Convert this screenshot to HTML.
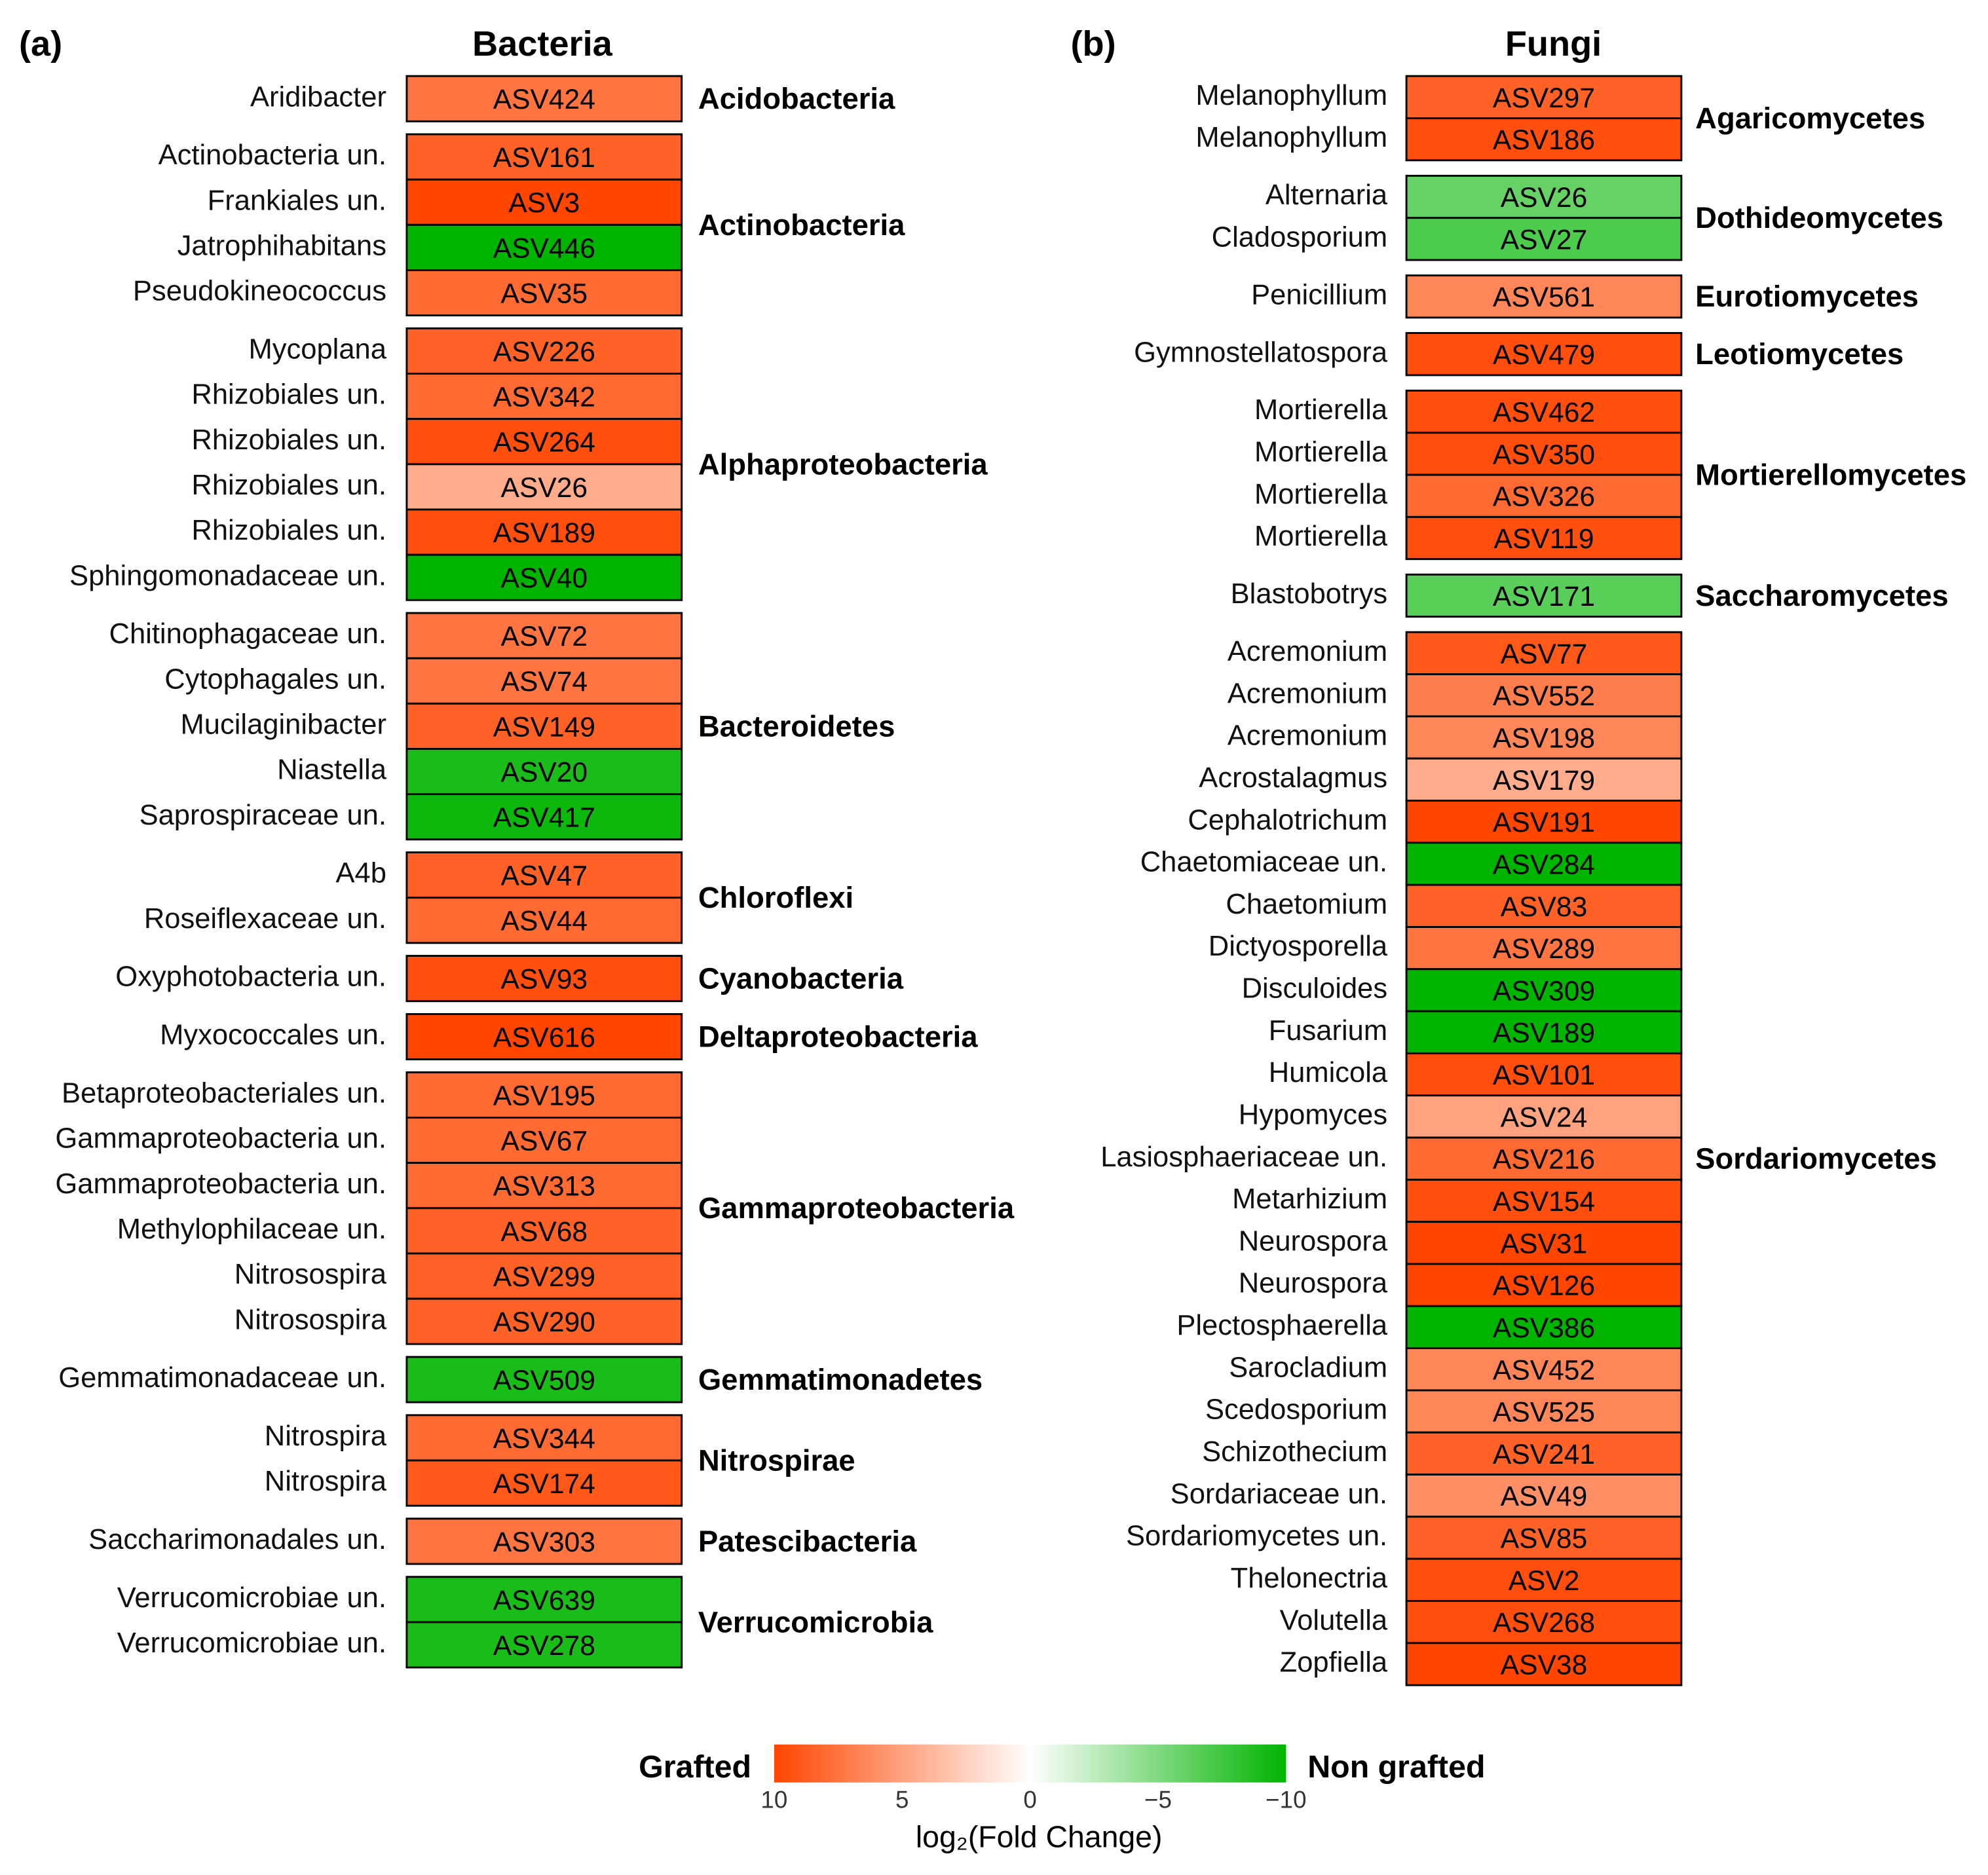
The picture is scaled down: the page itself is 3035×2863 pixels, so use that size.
<!DOCTYPE html>
<html><head><meta charset="utf-8"><style>
html,body{margin:0;padding:0;background:#fff}
svg{display:block;font-family:"Liberation Sans",Arial,sans-serif}
</style></head><body>
<svg id="chart" width="3035" height="2863" viewBox="0 0 1569 1480" xmlns="http://www.w3.org/2000/svg">
<defs><linearGradient id="cbar" x1="0" x2="1" y1="0" y2="0">
<stop offset="0" stop-color="#FF4500"/><stop offset="0.5" stop-color="#FFFFFF"/><stop offset="1" stop-color="#00B400"/></linearGradient></defs>
<text x="15" y="44" font-size="28" font-weight="bold">(a)</text>
<text x="428" y="44" font-size="28" font-weight="bold" text-anchor="middle">Bacteria</text>
<text x="845" y="44" font-size="28" font-weight="bold">(b)</text>
<text x="1226" y="44" font-size="28" font-weight="bold" text-anchor="middle">Fungi</text>
<g id="bac"></g>
<g id="fun"></g>
<g>
<rect x="611" y="1377" width="404" height="30" fill="url(#cbar)"/>
<text x="593" y="1403" font-size="25" font-weight="bold" text-anchor="end">Grafted</text>
<text x="1032" y="1403" font-size="25" font-weight="bold">Non grafted</text>
<g id="ticks"></g>
<text x="820" y="1458" font-size="24" text-anchor="middle">log₂(Fold Change)</text>
</g>
</svg>
<script>
const bacGroups=["Acidobacteria","Actinobacteria","Alphaproteobacteria","Bacteroidetes","Chloroflexi","Cyanobacteria","Deltaproteobacteria","Gammaproteobacteria","Gemmatimonadetes","Nitrospirae","Patescibacteria","Verrucomicrobia"];
const bacTaxa=[["Aridibacter"],["Actinobacteria un.","Frankiales un.","Jatrophihabitans","Pseudokineococcus"],["Mycoplana","Rhizobiales un.","Rhizobiales un.","Rhizobiales un.","Rhizobiales un.","Sphingomonadaceae un."],["Chitinophagaceae un.","Cytophagales un.","Mucilaginibacter","Niastella","Saprospiraceae un."],["A4b","Roseiflexaceae un."],["Oxyphotobacteria un."],["Myxococcales un."],["Betaproteobacteriales un.","Gammaproteobacteria un.","Gammaproteobacteria un.","Methylophilaceae un.","Nitrosospira","Nitrosospira"],["Gemmatimonadaceae un."],["Nitrospira","Nitrospira"],["Saccharimonadales un."],["Verrucomicrobiae un.","Verrucomicrobiae un."]];
const bacAsv=[["ASV424"],["ASV161","ASV3","ASV446","ASV35"],["ASV226","ASV342","ASV264","ASV26","ASV189","ASV40"],["ASV72","ASV74","ASV149","ASV20","ASV417"],["ASV47","ASV44"],["ASV93"],["ASV616"],["ASV195","ASV67","ASV313","ASV68","ASV299","ASV290"],["ASV509"],["ASV344","ASV174"],["ASV303"],["ASV639","ASV278"]];
const bacVals=[[7.5],[8.5,10,-10,8],[8.5,8,9.5,4.5,9.5,-10],[7.5,7.5,8.5,-9,-9.5],[8.5,8],[9.5],[10],[8,8,8,8.5,8.5,8.5],[-9],[8,9],[7.5],[-9,-9]];
const funGroups=["Agaricomycetes","Dothideomycetes","Eurotiomycetes","Leotiomycetes","Mortierellomycetes","Saccharomycetes","Sordariomycetes"];
const funTaxa=[["Melanophyllum","Melanophyllum"],["Alternaria","Cladosporium"],["Penicillium"],["Gymnostellatospora"],["Mortierella","Mortierella","Mortierella","Mortierella"],["Blastobotrys"],["Acremonium","Acremonium","Acremonium","Acrostalagmus","Cephalotrichum","Chaetomiaceae un.","Chaetomium","Dictyosporella","Disculoides","Fusarium","Humicola","Hypomyces","Lasiosphaeriaceae un.","Metarhizium","Neurospora","Neurospora","Plectosphaerella","Sarocladium","Scedosporium","Schizothecium","Sordariaceae un.","Sordariomycetes un.","Thelonectria","Volutella","Zopfiella"]];
const funAsv=[["ASV297","ASV186"],["ASV26","ASV27"],["ASV561"],["ASV479"],["ASV462","ASV350","ASV326","ASV119"],["ASV171"],["ASV77","ASV552","ASV198","ASV179","ASV191","ASV284","ASV83","ASV289","ASV309","ASV189","ASV101","ASV24","ASV216","ASV154","ASV31","ASV126","ASV386","ASV452","ASV525","ASV241","ASV49","ASV85","ASV2","ASV268","ASV38"]];
const funVals=[[8.5,9.5],[-6,-7],[6.5],[9.5],[9.5,9.5,8,9.5],[-6.5],[9,7,6.5,4.5,10,-10,8.5,7.5,-10,-10,9.5,5,8,9.5,10,10,-10,6.5,6.5,8.5,6,8.5,9.5,9.5,10]];
const tickVals=[10,5,0,-5,-10];
const NS="http://www.w3.org/2000/svg";
function color(v){const t=Math.max(-1,Math.min(1,v/10));
 if(t>=0){return `rgb(255,${Math.round(69+186*(1-t))},${Math.round(255*(1-t))})`;}
 const s=-t;return `rgb(${Math.round(255*(1-s))},${Math.round(180+75*(1-s))},${Math.round(255*(1-s))})`;}
function mk(tag,attrs,parent,txt){const e=document.createElementNS(NS,tag);for(const k in attrs)e.setAttribute(k,attrs[k]);if(txt!==undefined)e.textContent=txt;parent.appendChild(e);return e;}
function panel(gid,groups,taxa,asv,vals,x0,w,labelX,classX,y0,rowH,gap){
 const g=document.getElementById(gid);let y=y0;
 groups.forEach((grp,i)=>{const start=y;
  taxa[i].forEach((t,j)=>{
   const r=mk('rect',{x:x0,y:y,width:w,height:rowH,fill:color(vals[i][j]),stroke:'#000','stroke-width':1.5},g);
   
   
   const a=mk('text',{x:x0+w/2,y:y+rowH/2+8,'font-size':22,'text-anchor':'middle'},g,asv[i][j]);
   
   
   const l=mk('text',{x:labelX,y:y+rowH/2+6,'font-size':22.5,'text-anchor':'end',fill:'#111'},g,t);
   
   
   y+=rowH;});
  const c=mk('text',{x:classX,y:(start+y)/2+8,'font-size':23.5,'font-weight':'bold'},g,grp);
  
  
  y+=gap;});
}
panel('bac',bacGroups,bacTaxa,bacAsv,bacVals,321,217,305,551,60,35.75,10.2);
panel('fun',funGroups,funTaxa,funAsv,funVals,1110,217,1095,1338,60,33.25,12.2);
const tg=document.getElementById('ticks');
tickVals.forEach(v=>{const x=813-v/10*202;
 const t=mk('text',{x:x,y:1427,'font-size':19,'text-anchor':'middle',fill:'#333'},tg,v<0?'\u2212'+(-v):String(v));
 
 });
</script>
</body></html>
